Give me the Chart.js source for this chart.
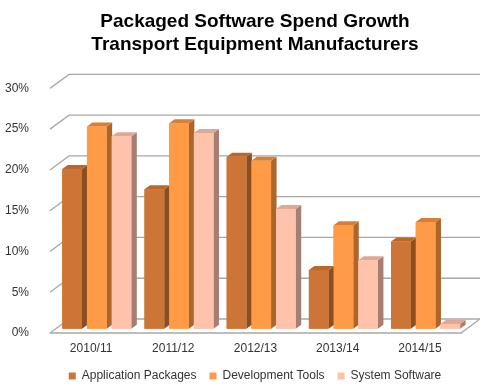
<!DOCTYPE html>
<html>
<head>
<meta charset="utf-8">
<script src="https://cdn.jsdelivr.net/npm/chart.js@4/dist/chart.umd.min.js"></script>
<style>
  html, body { margin: 0; padding: 0; background: #fff; }
  #wrap { width: 500px; height: 390px; }
</style>
</head>
<body>
<div id="wrap"><canvas id="chart"></canvas></div>
<script>
// --- data ---
const categories = ['2010/11', '2011/12', '2012/13', '2013/14', '2014/15'];
const appPackages = [19.6, 17.1, 21.1, 7.2, 10.7];
const devTools = [24.8, 25.2, 20.6, 12.7, 13.1];
const sysSoftware = [23.6, 24.0, 14.7, 8.4, 0.6];
const yTicks = [0, 5, 10, 15, 20, 25, 30];

// face colours: front / top / side
const faces = [
    { front: '#CD7536', top: '#BB672C', side: '#8C4E1F' },
    { front: '#FF9B46', top: '#D97F35', side: '#AD652A' },
    { front: '#FFC3AB', top: '#DDA895', side: '#A77F72' }
];

// ─── 3D look: walls + shifted bars with top/side faces ───
const WALL = { dx: 19, dy: -14 };
const SHIFT = { dx: 5.7, dy: -4.2 };
const DEPTH = { dx: 5.5, dy: -4 };

const fake3d = {
    id: 'fake3d',
    beforeDatasetsDraw(chart) {
        const { ctx, chartArea: a, scales: { y } } = chart;
        ctx.save();
        ctx.strokeStyle = '#A8A8A8';
        ctx.lineWidth = 1.3;
        yTicks.forEach(v => {
            const py = y.getPixelForValue(v);
            ctx.beginPath();
            ctx.moveTo(a.left, py);
            ctx.lineTo(a.left + WALL.dx, py + WALL.dy);
            ctx.lineTo(a.right + WALL.dx, py + WALL.dy);
            ctx.stroke();
        });
        const p0 = y.getPixelForValue(0);
        ctx.beginPath();
        ctx.moveTo(a.left, p0);
        ctx.lineTo(a.right, p0);
        ctx.lineTo(a.right + WALL.dx, p0 + WALL.dy);
        ctx.stroke();
        ctx.restore();
        // bars sit a bit behind the front edge
        ctx.save();
        ctx.translate(SHIFT.dx, SHIFT.dy);
    },
    afterDatasetsDraw(chart) {
        const ctx = chart.ctx;
        const bars = [];
        chart.data.datasets.forEach((ds, di) => {
            chart.getDatasetMeta(di).data.forEach(el => {
                const p = el.getProps(['x', 'y', 'base', 'width'], true);
                bars.push({ p, c: faces[di] });
            });
        });
        bars.sort((a, b) => a.p.x - b.p.x);
        bars.forEach(({ p, c }) => {
            const l = p.x - p.width / 2, r = p.x + p.width / 2;
            const t = p.y, b = p.base;
            // side
            ctx.fillStyle = c.side;
            ctx.beginPath();
            ctx.moveTo(r, b);
            ctx.lineTo(r + DEPTH.dx, b + DEPTH.dy);
            ctx.lineTo(r + DEPTH.dx, t + DEPTH.dy);
            ctx.lineTo(r, t);
            ctx.closePath();
            ctx.fill();
            // top
            ctx.fillStyle = c.top;
            ctx.beginPath();
            ctx.moveTo(l, t);
            ctx.lineTo(l + DEPTH.dx, t + DEPTH.dy);
            ctx.lineTo(r + DEPTH.dx, t + DEPTH.dy);
            ctx.lineTo(r, t);
            ctx.closePath();
            ctx.fill();
            // front
            ctx.fillStyle = c.front;
            ctx.fillRect(l, t, r - l, b - t);
        });
        ctx.restore();
    }
};

const font = "'Liberation Sans', Arial, sans-serif";

new Chart(document.getElementById('chart'), {
    type: 'bar',
    data: {
        labels: categories,
        datasets: [
            { label: 'Application Packages', data: appPackages, backgroundColor: faces[0].front },
            { label: 'Development Tools', data: devTools, backgroundColor: faces[1].front },
            { label: 'System Software', data: sysSoftware, backgroundColor: faces[2].front }
        ]
    },
    options: {
        responsive: true,
        maintainAspectRatio: false,
        animation: false,
        layout: { padding: { left: 0, right: -10, top: 0, bottom: -2 } },
        datasets: { bar: { categoryPercentage: 0.9, barPercentage: 0.8, borderWidth: 0 } },
        scales: {
            y: {
                min: 0,
                max: 30,
                afterBuildTicks: s => { s.ticks = yTicks.map(v => ({ value: v })); },
                afterFit: s => { s.width = 50; },
                grid: { display: false },
                border: { display: false },
                ticks: {
                    padding: 13,
                    color: '#333',
                    font: { family: font, size: 12 },
                    callback: v => v + '%'
                }
            },
            // empty right axis, only keeps room on the right
            y2: {
                position: 'right',
                display: true,
                afterFit: s => { s.width = 49; },
                grid: { display: false },
                border: { display: false },
                ticks: { display: false }
            },
            x: {
                afterFit: s => { s.height = 24; },
                grid: { display: false },
                border: { display: false },
                ticks: {
                    padding: 0,
                    color: '#333',
                    font: { family: font, size: 12 }
                }
            }
        },
        plugins: {
            title: {
                display: true,
                text: ['Packaged Software Spend Growth', 'Transport Equipment Manufacturers'],
                color: '#000',
                font: { family: font, size: 19, weight: 'bold', lineHeight: 1.22 },
                padding: { top: 10, bottom: 32 }
            },
            legend: {
                position: 'bottom',
                labels: {
                    boxWidth: 7,
                    boxHeight: 7,
                    padding: 13,
                    color: '#333',
                    font: { family: font, size: 12 }
                }
            },
            tooltip: { enabled: false }
        }
    },
    plugins: [fake3d]
});
</script>
</body>
</html>
